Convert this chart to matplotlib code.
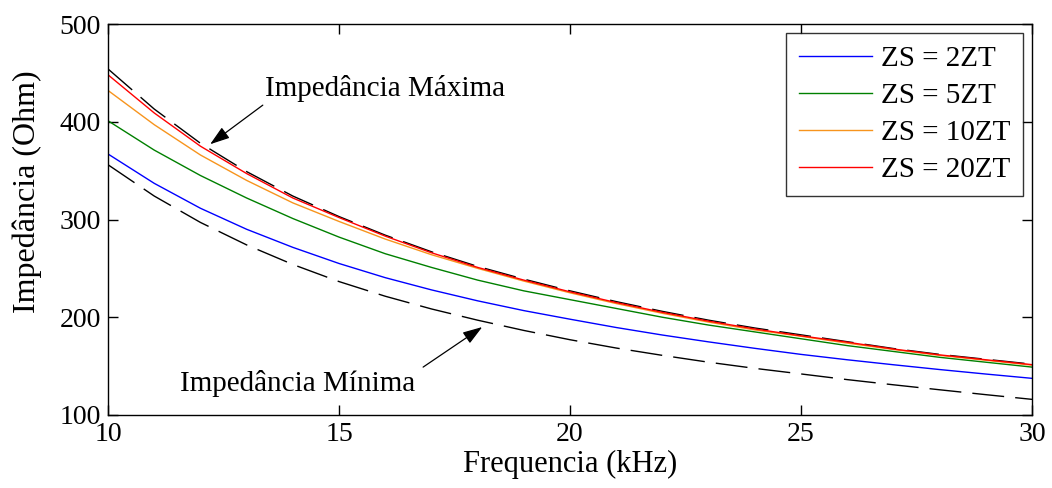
import numpy as np
import matplotlib
matplotlib.use("Agg")
import matplotlib.pyplot as plt

plt.rcParams['font.family'] = ['Liberation Serif', 'DejaVu Serif']

freq = [10, 11, 12, 13, 14, 15, 16, 17, 18, 19, 20,
        21, 22, 23, 24, 25, 26, 27, 28, 29, 30]

z_max = [454, 413, 378, 349, 324, 303, 284, 267, 252, 239, 227,
         216, 206, 197, 189, 182, 175, 168, 162, 157, 152]
z_min = [356, 324, 297, 274, 254, 236.5, 221.5, 208.5, 197, 186.5, 177,
         168.5, 161, 154, 147.7, 142, 136.2, 130.9, 125.8, 120.8, 116]

z_2 = [367, 337, 311.5, 290, 271.5, 255, 240.5, 228, 216.8, 206.8, 198,
       189.5, 181.8, 174.8, 168.2, 162, 156.5, 151.4, 146.5, 141.9, 137.5]
z_5 = [401, 371, 345, 322, 301, 282, 265, 251, 238, 227, 218,
       209, 200, 192, 185, 178, 171, 165, 159, 154, 149]
z_10 = [432, 397, 366, 340, 317, 298, 280, 264, 250, 237, 225,
        214, 204, 195, 187, 180.5, 173.5, 167, 161, 156, 151]
z_20 = [448, 409, 375, 347, 322, 302, 283, 266, 251, 238, 226,
        215, 205, 196, 188, 181, 174.5, 167.5, 161.5, 156.5, 151.5]

labels = ['ZS = 2ZT', 'ZS = 5ZT', 'ZS = 10ZT', 'ZS = 20ZT']
colors = ['#0000ff', '#008000', '#f7941d', '#ff0000']

fig = plt.figure(figsize=(10.52, 4.88), dpi=100)
ax = fig.add_axes([0.1027, 0.1496, 0.8783, 0.8012])

dash = (0, (23, 8))
ax.plot(freq, z_max, color='black', lw=1.0, linestyle=dash)
ax.plot(freq, z_min, color='black', lw=1.0, linestyle=dash)

lines = []
for vals, lab, c in zip([z_2, z_5, z_10, z_20], labels, colors):
    ln, = ax.plot(freq, vals, color=c, lw=1.0, label=lab)
    lines.append(ln)

ax.set_xlim(10, 30)
ax.set_ylim(100, 500)
ax.set_xticks([10, 15, 20, 25, 30])
ax.set_yticks([100, 200, 300, 400, 500])
ax.tick_params(direction='in', length=7, width=1, top=True, right=True,
               labelsize=20, pad=5)
for sp in ax.spines.values():
    sp.set_linewidth(1.0)

ax.set_xlabel('Frequencia (kHz)', fontsize=22, labelpad=2)
ax.set_ylabel('Impedância (Ohm)', fontsize=23)
ax.yaxis.set_label_coords(-0.071, 0.57)

leg = ax.legend(handles=lines, loc='upper right', fontsize=21,
                frameon=True, fancybox=False, edgecolor='black',
                handlelength=2.5, handletextpad=0.3, labelspacing=0.36,
                borderpad=0.45, borderaxespad=0.3)
leg.get_frame().set_linewidth(1.0)

arrow = dict(arrowstyle='-|>,head_length=1.2,head_width=0.4',
             color='black', lw=0.9, shrinkA=0, shrinkB=0)

# Impedancia Maxima
ax.text(13.4, 434.5, 'Impedância Máxima', fontsize=21, ha='left', va='center')
ax.annotate('', xy=(12.21, 377), xytext=(13.35, 417), arrowprops=arrow)

# Impedancia Minima
ax.text(11.56, 132.7, 'Impedância Mínima', fontsize=21, ha='left', va='center')
ax.annotate('', xy=(18.1, 190), xytext=(16.82, 149), arrowprops=arrow)

fig.savefig('out.png', dpi=100)
